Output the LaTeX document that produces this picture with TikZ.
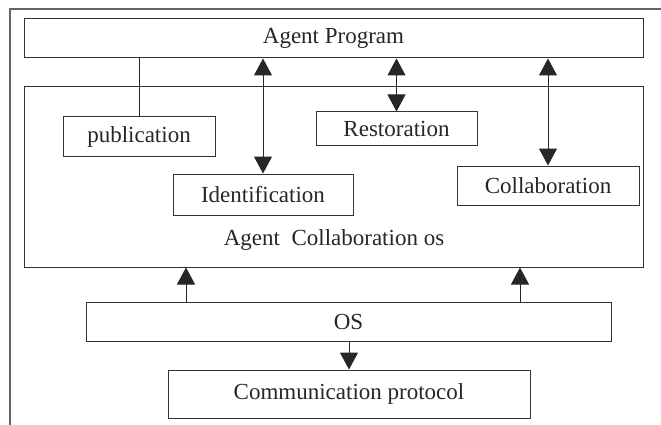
\documentclass[tikz,border=0pt]{standalone}
\usepackage{fontspec}
\setmainfont{Liberation Serif}
\usetikzlibrary{arrows.meta}
\begin{document}
\begin{tikzpicture}[x=1pt,y=-1pt,
  line width=1pt, draw=black!85,
  box/.style={draw=black!80, line width=1pt, inner sep=0pt, font=\fontsize{23}{27}\selectfont, text=black!85},
  tri/.style={-{Triangle[width=18pt,length=17pt]}},
  bitri/.style={{Triangle[width=18pt,length=17pt]}-{Triangle[width=18pt,length=17pt]}}]
\useasboundingbox (0,0) rectangle (661,425);
\draw[draw=black!60, line width=1.2pt] (10,425) -- (10,9) -- (661,9);
\node[box, minimum width=619pt, minimum height=39pt] (prog) at (333.5,38.5) {Agent Program};
\node[box, minimum width=619pt, minimum height=180pt] (aco) at (333.5,177) {};
\node[font=\fontsize{23}{27}\selectfont, text=black!85, inner sep=0pt] (acotext) at (334,240) {Agent\ \ Collaboration os};
\node[box, minimum width=152pt, minimum height=39pt] (pub) at (139,136.5) {publication};
\node[box, minimum width=180pt, minimum height=41pt] (ident) at (263,194.5) {Identification};
\node[box, minimum width=161pt, minimum height=34pt] (rest) at (396.5,129) {Restoration};
\node[box, minimum width=182pt, minimum height=39pt] (collab) at (548,185.5) {Collaboration};
\node[box, minimum width=525pt, minimum height=39pt] (os) at (348.5,321.5) {OS};
\node[box, minimum width=362pt, minimum height=48pt] (comm) at (349,394) {Communication protocol};
\coordinate (u1) at (186,0);
\coordinate (u2) at (520,0);
\draw (pub.north) -- (pub.north |- prog.south);
\draw[bitri] (ident.north |- prog.south) -- (ident.north);
\draw[bitri] (rest.north |- prog.south) -- (rest.north);
\draw[bitri] (collab.north |- prog.south) -- (collab.north);
\draw[tri] (os.north -| u1) -- (aco.south -| u1);
\draw[tri] (os.north -| u2) -- (aco.south -| u2);
\draw[tri] (os.south -| comm.north) -- (comm.north);
\end{tikzpicture}
\end{document}
